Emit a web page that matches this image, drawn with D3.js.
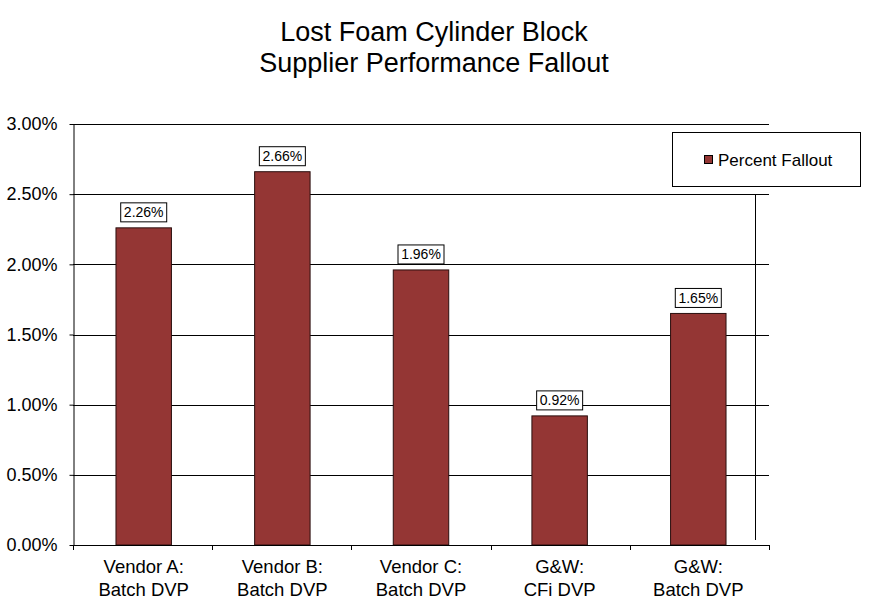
<!DOCTYPE html>
<html><head><meta charset="utf-8">
<script src="https://cdn.jsdelivr.net/npm/d3@7"></script>
<style>body{margin:0;background:#fff}svg{display:block;font-family:"Liberation Sans",Arial,sans-serif}</style>
</head><body><svg id="c" width="870" height="603"></svg>
<script>
const categories = [["Vendor A:","Batch DVP"],["Vendor B:","Batch DVP"],["Vendor C:","Batch DVP"],["G&W:","CFi DVP"],["G&W:","Batch DVP"]];
const values = [2.26, 2.66, 1.96, 0.92, 1.65];
const yTicks = [0, 0.5, 1.0, 1.5, 2.0, 2.5, 3.0];
const titleLines = ["Lost Foam Cylinder Block","Supplier Performance Fallout"];
const seriesName = "Percent Fallout";

const svg = d3.select("#c");
const L = 73, R = 769, T = 124, B = 545;
const x = d3.scaleBand().domain(d3.range(values.length)).range([L, R]).paddingInner(0.6).paddingOuter(0.31);
const y = d3.scaleLinear().domain([0, 3]).range([B, T]);
const fill = "#943634";

svg.append("g").selectAll("text").data(titleLines).join("text")
  .attr("x", 434).attr("y", (d,i)=>41+i*31).attr("text-anchor","middle")
  .attr("font-size", 27).text(d=>d);

// gridlines
svg.append("g").selectAll("line").data(yTicks.filter(d=>d>0)).join("line")
  .attr("x1", L).attr("x2", R).attr("y1", d=>Math.round(y(d))+0.5).attr("y2", d=>Math.round(y(d))+0.5)
  .attr("stroke", "#000").attr("stroke-width", 1);

// y axis
const ya = d3.axisLeft(y).tickValues(yTicks).tickFormat(d=>d.toFixed(2)+"%").tickSize(4).tickSizeOuter(0);
const gy = svg.append("g").attr("transform", `translate(${L+0.5},0)`).call(ya);
gy.selectAll("text").attr("font-size", 18).attr("fill","#000").attr("dx", -9).attr("font-family","inherit");
gy.selectAll("line,path").attr("stroke","#000");

// odd vertical line
svg.append("line").attr("x1",755.5).attr("x2",755.5).attr("y1",195).attr("y2",540).attr("stroke","#000");

// bars
svg.append("g").selectAll("rect").data(values).join("rect")
  .attr("x", (d,i)=>x(i)).attr("width", x.bandwidth())
  .attr("y", d=>y(d)).attr("height", d=>B-y(d))
  .attr("fill", fill).attr("stroke", "#2a0f0e").attr("stroke-width", 1);

// x axis
const xTickPos = d3.range(values.length+1).map(i=>L + i*(R-L)/values.length);
svg.append("line").attr("x1",L).attr("x2",R).attr("y1",B+0.5).attr("y2",B+0.5).attr("stroke","#000");
svg.append("g").selectAll("line").data(xTickPos).join("line")
  .attr("x1",d=>Math.round(d)+0.5).attr("x2",d=>Math.round(d)+0.5).attr("y1",B).attr("y2",B+5).attr("stroke","#000");
const xl = svg.append("g").selectAll("text").data(categories).join("text")
  .attr("text-anchor","middle").attr("font-size",18.5)
  .attr("transform",(d,i)=>`translate(${x(i)+x.bandwidth()/2},0)`);
xl.selectAll("tspan").data(d=>d).join("tspan").attr("x",0).attr("y",(d,j)=>573+j*23).text(d=>d);

// value labels
const lg = svg.append("g").selectAll("g").data(values).join("g")
  .attr("transform",(d,i)=>`translate(${x(i)+x.bandwidth()/2},${y(d)-6})`);
lg.append("rect").attr("x",-23).attr("y",-19).attr("width",46).attr("height",19)
  .attr("fill","#fff").attr("stroke","#000");
lg.append("text").attr("text-anchor","middle").attr("y",-4.5).attr("font-size",14).text(d=>d.toFixed(2)+"%");

// legend
const leg = svg.append("g");
leg.append("rect").attr("x",672.5).attr("y",132.5).attr("width",188).attr("height",54).attr("fill","#fff").attr("stroke","#000");
leg.append("rect").attr("x",704.5).attr("y",155.5).attr("width",8).attr("height",8).attr("fill",fill).attr("stroke","#000");
leg.append("text").attr("x",718).attr("y",166).attr("font-size",17).text(seriesName);
</script></body></html>
